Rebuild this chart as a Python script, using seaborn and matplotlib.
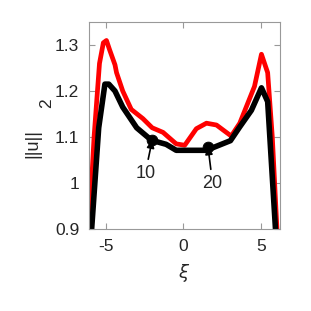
import numpy as np
import pandas as pd
import seaborn as sns
import matplotlib
matplotlib.use('Agg')
import matplotlib.pyplot as plt

# curve data
red_x = [-6.2, -5.75, -5.4, -5.15, -4.95, -4.75, -4.4, -4.3, -3.9, -3.35, -2.6, -2.0, -1.3, -0.45, 0.1, 0.85, 1.5, 2.15, 3.1, 3.65, 4.6, 5.05, 5.45, 5.75, 6.2]
red_y = [0.82, 1.1, 1.26, 1.305, 1.31, 1.29, 1.257, 1.24, 1.2, 1.16, 1.14, 1.12, 1.11, 1.085, 1.082, 1.118, 1.13, 1.126, 1.102, 1.13, 1.21, 1.28, 1.24, 1.1, 0.8]
black_x = [-6.05, -5.45, -5.05, -4.8, -4.4, -3.9, -3.0, -2.05, -1.1, -0.45, 1.5, 3.05, 3.65, 4.4, 5.05, 5.45, 6.1]
black_y = [0.83, 1.12, 1.215, 1.215, 1.2, 1.165, 1.12, 1.093, 1.084, 1.071, 1.071, 1.092, 1.122, 1.158, 1.207, 1.177, 0.82]

mark_x = [-2.0, 1.6]
mark_y = [1.093, 1.079]
mark_labels = ['10', '20']
label_x = [-2.45, 1.9]
label_y = [1.02, 0.998]

sns.set_style('white')
plt.rcParams['font.family'] = ['Liberation Sans', 'DejaVu Sans']
plt.rcParams['axes.unicode_minus'] = False

fig = plt.figure(figsize=(3.11, 3.11), dpi=100)
ax = fig.add_axes([0.286, 0.264, 0.614, 0.665])

red = pd.DataFrame({'x': red_x, 'y': red_y})
black = pd.DataFrame({'x': black_x, 'y': black_y})
sns.lineplot(data=red, x='x', y='y', sort=False, color='#ff0000', linewidth=3.4, ax=ax)
sns.lineplot(data=black, x='x', y='y', sort=False, color='black', linewidth=4.0, ax=ax)
sns.scatterplot(x=mark_x, y=mark_y, color='black', s=60, edgecolor='black', zorder=5, ax=ax)

for mx, my, lab, lx, ly in zip(mark_x, mark_y, mark_labels, label_x, label_y):
    ax.annotate(lab, xy=(mx, my), xytext=(lx, ly), fontsize=13, ha='center', va='center',
                arrowprops=dict(arrowstyle='-|>', color='black', lw=1.2, shrinkA=2, shrinkB=0,
                                mutation_scale=11))

ax.set_xlim(-6.08, 6.24)
ax.set_ylim(0.9, 1.35)
ax.set_xticks([-5, 0, 5])
ax.set_yticks([0.9, 1.0, 1.1, 1.2, 1.3])
ax.set_yticklabels(['0.9', '1', '1.1', '1.2', '1.3'])
ax.tick_params(direction='in', length=4, color='#999999', labelsize=12.5, pad=7,
               top=True, right=True, bottom=True, left=True)
for s in ax.spines.values():
    s.set_color('#999999')
    s.set_linewidth(0.8)

ax.set_xlabel(r'$\xi$', fontsize=13, labelpad=6)
ax.set_ylabel('')
fig.text(33 / 311, 1 - 143 / 311, '||u||', rotation=90, fontsize=13, ha='center', va='center')
fig.text(47 / 311, 1 - 103 / 311, '2', rotation=90, fontsize=12.5, ha='center', va='center')

fig.savefig('out.png', dpi=100)
